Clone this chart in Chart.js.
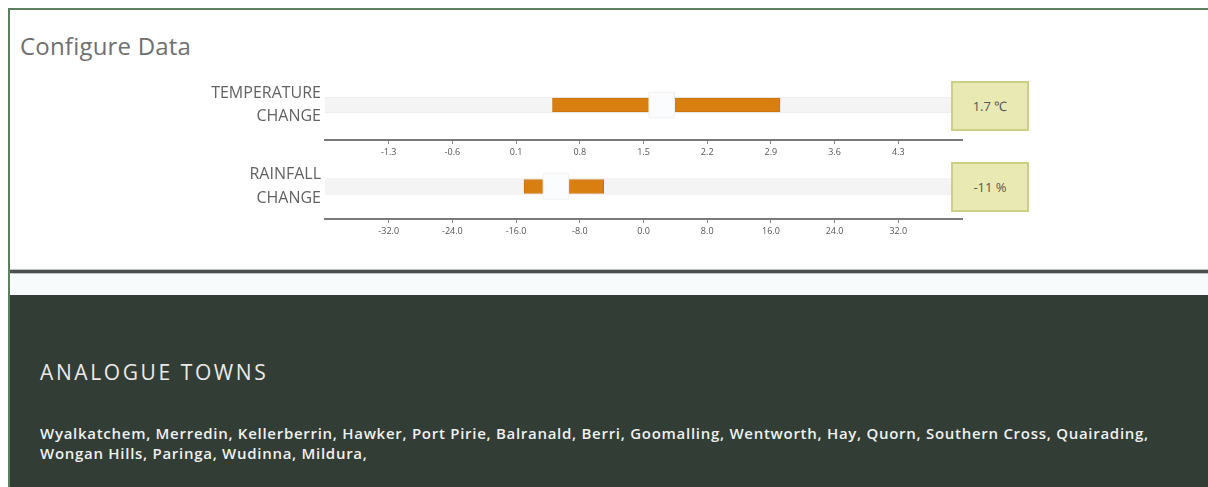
<!DOCTYPE html>
<html>
<head>
<meta charset="utf-8">
<script src="https://cdn.jsdelivr.net/npm/chart.js@4/dist/chart.umd.min.js"></script>
<style>
  html, body { margin: 0; padding: 0; background: #fff; }
  body { width: 1208px; height: 487px; position: relative; overflow: hidden; font-family: "Open Sans", sans-serif; }
  .frame { position: absolute; left: 8px; top: 8px; right: 0; bottom: 0; border-top: 2px solid #5b7f5f; border-left: 2px solid #5b7f5f; }
  .title { position: absolute; left: 20px; top: 29px; font-size: 24px; color: #707070; font-weight: 400; letter-spacing: 0.2px; }
  .divider { position: absolute; left: 10px; right: 0; top: 270px; height: 3px; background: #4a504c; box-shadow: 0 -1px 1px #bbb, 0 1px 1px #bbb; }
  .gap { position: absolute; left: 10px; right: 0; top: 274px; height: 21px; background: #f8fbfb; }
  .panel { position: absolute; left: 10px; right: 0; top: 295px; bottom: 0; background: #323d35; }
  .panel h2 { position: absolute; left: 30px; top: 63px; margin: 0; font-size: 21px; font-weight: 400; color: #eaeaea; letter-spacing: 2.6px; }
  .panel p { position: absolute; left: 30px; top: 128px; margin: 0; width: 1135px; font-size: 15px; line-height: 20px; font-weight: 600; color: #f0f0f0; letter-spacing: 0.72px; }
  .chartbox { position: absolute; left: 190px; width: 791px; }
  .valbox { position: absolute; left: 951px; width: 74px; height: 46px; background: #e9e9b3; border: 2px solid #cdd084; color: #555; font-size: 13px; line-height: 46px; text-align: center; }
</style>
</head>
<body>
<div class="frame"></div>
<div class="title">Configure Data</div>
<div class="chartbox" style="top:70px;height:90px"><canvas id="tempChart"></canvas></div>
<div class="chartbox" style="top:154px;height:85px"><canvas id="rainChart"></canvas></div>
<div class="valbox" id="tempBox" style="top:81px"></div>
<div class="valbox" id="rainBox" style="top:162px"></div>
<div class="divider"></div>
<div class="gap"></div>
<div class="panel">
  <h2>ANALOGUE TOWNS</h2>
  <p id="towns"></p>
</div>
<script>
// slider data
const tempLabel = ['TEMPERATURE', 'CHANGE'];
const tempAxis = [-2, 5];
const tempStep = 0.7;
const tempRange = [0.5, 3.0];
const tempValue = 1.7;
const tempUnit = ' \u2103';

const rainLabel = ['RAINFALL', 'CHANGE'];
const rainAxis = [-40, 40];
const rainStep = 8;
const rainRange = [-15, -5];
const rainValue = -11;
const rainUnit = ' %';

const towns = ['Wyalkatchem', 'Merredin', 'Kellerberrin', 'Hawker', 'Port Pirie', 'Balranald', 'Berri',
  'Goomalling', 'Wentworth', 'Hay', 'Quorn', 'Southern Cross', 'Quairading', 'Wongan Hills',
  'Paringa', 'Wudinna', 'Mildura'];

document.getElementById('towns').textContent = towns.join(', ') + ',';
document.getElementById('tempBox').textContent = tempValue + tempUnit;
document.getElementById('rainBox').textContent = rainValue + rainUnit;

function makeSlider(id, label, axis, step, range, value) {
  var ctx = document.getElementById(id);
  return new Chart(ctx, {
    type: 'bar',
    data: {
      labels: [label],
      datasets: [
        {
          data: [axis],
          backgroundColor: '#f4f4f4',
          borderColor: '#ececec',
          borderWidth: 1,
          barThickness: 16,
          grouped: false,
          order: 3
        },
        {
          data: [range],
          backgroundColor: '#d97f12',
          borderColor: '#c97310',
          borderWidth: 1,
          borderSkipped: false,
          barThickness: 14,
          grouped: false,
          order: 2
        },
        {
          type: 'line',
          data: [value],
          showLine: false,
          pointStyle: 'rect',
          pointRadius: 18,
          pointBackgroundColor: '#fbfcfd',
          pointBorderColor: '#f0f0f0',
          pointBorderWidth: 1,
          clip: false,
          order: 1
        }
      ]
    },
    options: {
      indexAxis: 'y',
      responsive: true,
      maintainAspectRatio: false,
      animation: false,
      layout: { autoPadding: false, padding: { top: 0, right: 19, bottom: 0, left: 0 } },
      plugins: { legend: { display: false }, tooltip: { enabled: false } },
      scales: {
        x: {
          min: axis[0],
          max: axis[1],
          ticks: {
            stepSize: step,
            autoSkip: false,
            maxRotation: 0,
            padding: 3,
            color: '#555',
            font: { family: 'Open Sans', size: 9 },
            callback: function(v) { return Number(v).toFixed(1); }
          },
          afterBuildTicks: function(scale) {
            scale.ticks = scale.ticks.filter(function(t) {
              return t.value > axis[0] + 1e-9 && t.value < axis[1] - 1e-9;
            });
          },
          afterFit: function(scale) { scale.height = 20; },
          grid: { drawOnChartArea: false, drawTicks: true, tickLength: 4, tickColor: '#888', lineWidth: 1 },
          border: { display: true, color: '#7a7a7a', width: 2 }
        },
        y: {
          ticks: {
            color: '#626262',
            padding: 4,
            font: { family: 'Open Sans', size: 16, lineHeight: 1.45 }
          },
          afterFit: function(scale) {
            scale.width = 135;
            scale.paddingTop = 0;
            scale.paddingBottom = 0;
          },
          grid: { display: false, drawTicks: false },
          border: { display: false }
        }
      }
    }
  });
}

makeSlider('tempChart', tempLabel, tempAxis, tempStep, tempRange, tempValue);
makeSlider('rainChart', rainLabel, rainAxis, rainStep, rainRange, rainValue);
</script>
</body>
</html>
